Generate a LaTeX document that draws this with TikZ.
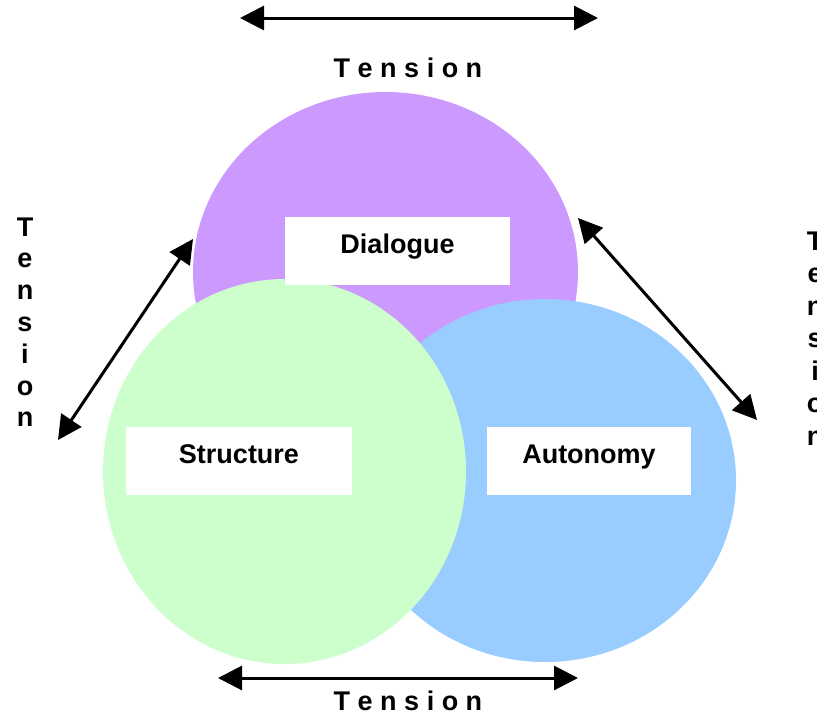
\documentclass[tikz,border=0pt]{standalone}
\usepackage{fontspec}
\setmainfont{Liberation Sans}
\usetikzlibrary{arrows.meta,shapes.geometric}

\definecolor{dialoguefill}{HTML}{CC99FF}
\definecolor{structurefill}{HTML}{CCFFCC}
\definecolor{autonomyfill}{HTML}{99CCFF}

\begin{document}
\begin{tikzpicture}[x=1pt,y=-1pt,
  every node/.style={font=\fontsize{27}{32}\selectfont\bfseries, inner sep=0pt},
  blob/.style={ellipse, draw=none},
  labelbox/.style={rectangle, fill=white, text height=20pt, text depth=16pt, minimum height=68pt},
  tensionarrow/.style={arrows={Triangle[length=24pt,width=24pt]-Triangle[length=24pt,width=24pt]}, line width=3pt},
  letter/.style={anchor=base}]
\useasboundingbox (0,0) rectangle (817,715);
\clip (0,0) rectangle (817,715);

% the three overlapping areas
\node[blob, fill=dialoguefill, minimum width=385pt, minimum height=360pt] (dialogue) at (385.5,272) {};
\node[blob, fill=autonomyfill, minimum width=382pt, minimum height=363pt] (autonomy) at (545,480.5) {};
\node[blob, fill=structurefill, minimum width=363pt, minimum height=385pt] (structure) at (284.5,471.5) {};

% label boxes
\node[labelbox, minimum width=225pt] (dialoguebox) at (397.5,251) {Dialogue};
\node[labelbox, minimum width=226pt] (structurebox) at (239,461) {Structure};
\node[labelbox, minimum width=204pt] (autonomybox) at (589,461) {Autonomy};

% tension arrows
\coordinate (topL) at (240,18);
\coordinate (topR) at (598,18);
\coordinate (botL) at (218,678);
\coordinate (botR) at (578,678);
\coordinate (leftLo) at (58,440);
\coordinate (leftHi) at (193,239);
\coordinate (rightHi) at (578,218);
\coordinate (rightLo) at (757,420);
\draw[tensionarrow] (topL) -- (topR);
\draw[tensionarrow] (botL) -- (botR);
\draw[tensionarrow] (leftLo) -- (leftHi);
\draw[tensionarrow] (rightHi) -- (rightLo);

% tension labels
\node[anchor=base] (toptension) at (408,77) {T e n s i o n};
\node[anchor=base] (bottension) at (408,710) {T e n s i o n};
\foreach \ch [count=\i] in {T,e,n,s,i,o,n} {
  \node[letter] (leftch\i) at (25,{236+(\i-1)*31.8}) {\ch};
  \node[letter] (rightch\i) at (815,{250+(\i-1)*32.5}) {\ch};
}
\end{tikzpicture}
\end{document}
